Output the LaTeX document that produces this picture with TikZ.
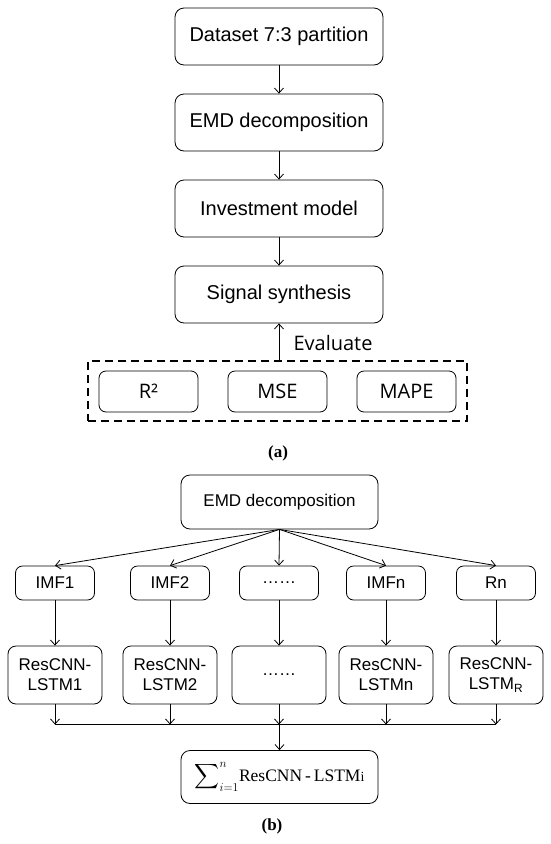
\documentclass[tikz,border=0pt]{standalone}
\usepackage{amsmath}
\usepackage{fontspec}
\setmainfont{Liberation Sans}
\newfontfamily\evalfont{Open Sans}
\newfontfamily\serffont{Liberation Serif}
\usetikzlibrary{arrows.meta}
\begin{document}
\begin{tikzpicture}[x=1pt,y=-1pt]

\tikzstyle{box1}=[rectangle, draw, rounded corners=9pt, line width=0.8pt, inner sep=0pt, minimum width=208pt, minimum height=57pt, font=\fontsize{20}{24}\selectfont]
\tikzstyle{box2}=[rectangle, draw, rounded corners=7pt, line width=0.8pt, inner sep=0pt, minimum width=99pt, minimum height=41pt, font=\evalfont\fontsize{20}{24}\selectfont]
\tikzstyle{box3}=[rectangle, draw, rounded corners=7pt, line width=0.8pt, inner sep=0pt, minimum width=79pt, minimum height=34pt, font=\fontsize{17}{20}\selectfont]
\tikzstyle{box4}=[rectangle, draw, rounded corners=8pt, line width=0.8pt, inner sep=0pt, minimum width=94pt, minimum height=58pt, align=center, font=\fontsize{17}{20}\selectfont]
\tikzstyle{box5}=[rectangle, draw, rounded corners=9pt, line width=0.8pt, inner sep=0pt, minimum width=197pt, minimum height=53pt, font=\serffont\fontsize{17.5}{21}\selectfont]
\tikzstyle{arrow}=[-{Straight Barb[length=5pt,width=9pt]}, line width=0.8pt]
\tikzstyle{capstyle}=[font=\serffont\bfseries\fontsize{17}{20}\selectfont]

\useasboundingbox (0,0) rectangle (550,844);

% (a)
\node (A) [box1] at (279,36.5)  {Dataset 7:3 partition};
\node (B) [box1] at (279,122.5) {EMD decomposition};
\node (C) [box1] at (279,208.5) {Investment model};
\node (D) [box1] at (279,294.5) {Signal synthesis};
\node (E) [draw, dashed, dash pattern=on 8pt off 5pt, line width=1.1pt, minimum width=379pt, minimum height=60pt, inner sep=0pt] at (277.5,391) {};
\node (R2)   [box2] at (148.5,391.5) {R²};
\node (MSE)  [box2] at (277.5,391.5) {MSE};
\node (MAPE) [box2] at (406.5,391.5) {MAPE};
\node (ev) [font=\evalfont\fontsize{20}{24}\selectfont] at (333,343) {Evaluate};

\draw[arrow] (A) -- (B);
\draw[arrow] (B) -- (C);
\draw[arrow] (C) -- (D);
\draw[arrow] (E.north -| D.south) -- (D.south);

\node (capa) [capstyle] at (278,453) {(a)};

% (b)
\node (F) [box1, minimum width=197pt, minimum height=54pt, font=\fontsize{17}{20}\selectfont] at (279.5,502) {EMD decomposition};

\node (I1) [box3] at (55,583)  {IMF1};
\node (I2) [box3] at (170,583) {IMF2};
\node (I3) [box3] at (279,583) {\ldots\ldots};
\node (I4) [box3] at (386,583) {IMFn};
\node (I5) [box3] at (496,583) {Rn};

\node (L1) [box4] at (55,675)  {ResCNN-\\LSTM1};
\node (L2) [box4] at (170,675) {ResCNN-\\LSTM2};
\node (L3) [box4] at (279,675) {\ldots\ldots};
\node (L4) [box4] at (386,675) {ResCNN-\\LSTMn};
\node (L5) [box4] at (496,675) {ResCNN-\\LSTM\textsubscript{R}};

\node (S) [box5] at (279.5,777) {$\displaystyle\sum\nolimits_{i=1}^{n}$ResCNN\,-\,LSTM{\fontsize{14}{16}\selectfont i}};

\foreach \n in {1,...,5}
  \draw[arrow] (F.south) -- (I\n.north);
\foreach \n in {1,...,5}
  \draw[arrow] (I\n.south) -- (L\n.north);

\coordinate (J1) at (55,724.5);
\coordinate (J5) at (496,724.5);
\foreach \n in {1,...,5}
  \draw[arrow] (L\n.south) -- (L\n.south |- J1);
\draw[line width=0.8pt] (J1) -- (J5);
\draw[arrow] (S.north |- J1) -- (S.north);

\node (capb) [capstyle] at (272,826) {(b)};
\end{tikzpicture}
\end{document}
